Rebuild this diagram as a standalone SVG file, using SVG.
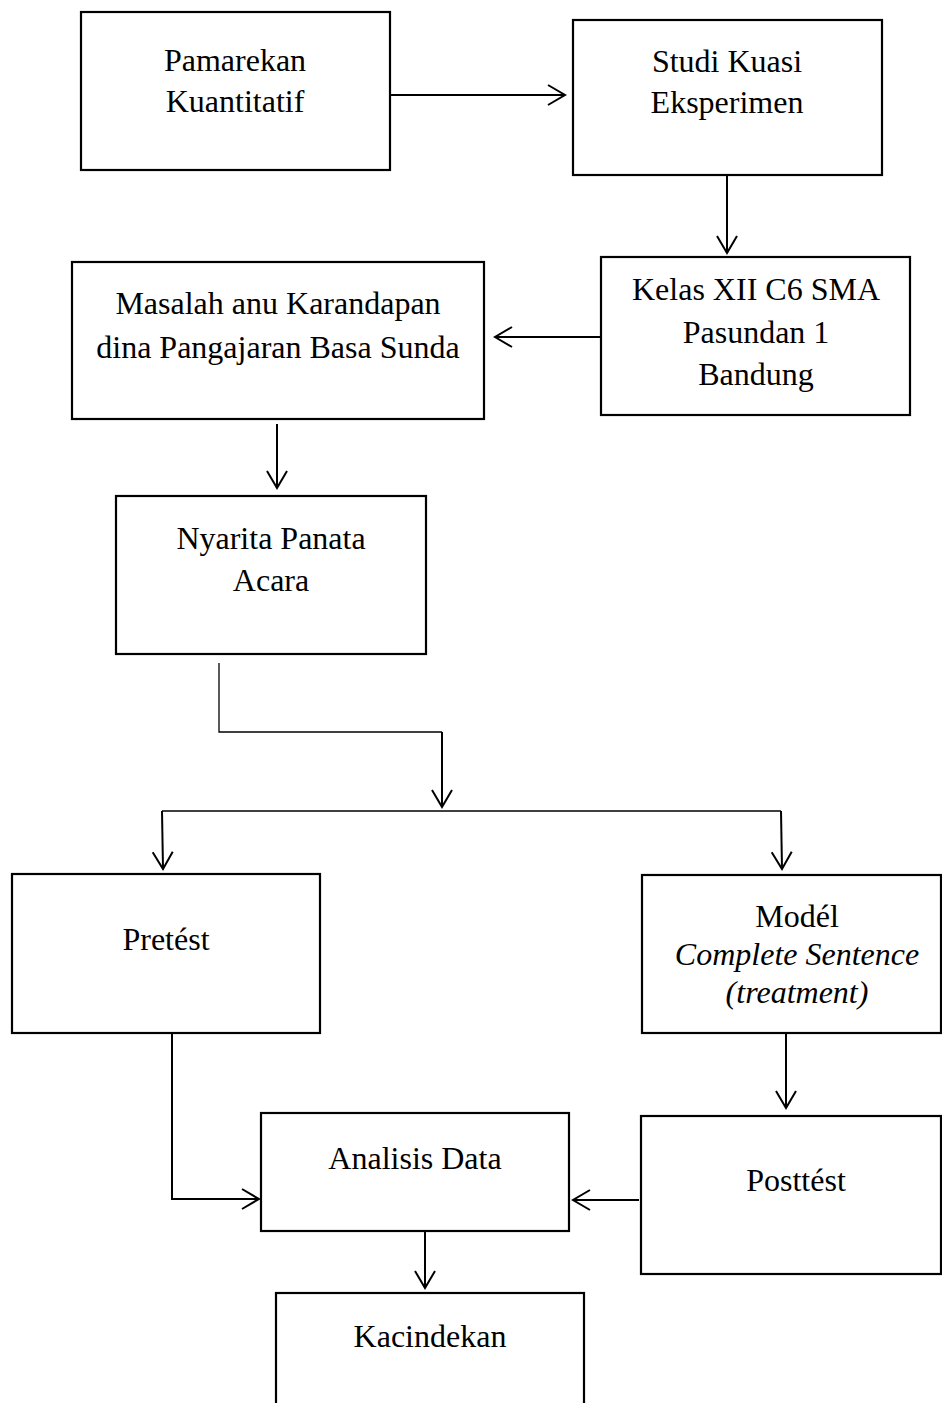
<svg xmlns="http://www.w3.org/2000/svg" width="942" height="1403" viewBox="0 0 942 1403">
<defs>
<style>
.box{fill:#fff;stroke:#000;stroke-width:2.2}
.t{font-family:"Liberation Serif","Times New Roman",serif;font-size:32px;fill:#000;text-anchor:middle}
.i{font-style:italic}
.c{fill:none;stroke:#000;stroke-width:2}
.thin{fill:none;stroke:#000;stroke-width:1.3}
</style>
<marker id="ah" markerUnits="userSpaceOnUse" markerWidth="24" markerHeight="24" viewBox="-20 -12 24 24" refX="0" refY="0" orient="auto">
<path d="M-17,-10 L0,0 L-17,10" fill="none" stroke="#000" stroke-width="2"/>
</marker>
</defs>
<rect width="942" height="1403" fill="#fff"/>
<g id="connectors">
<path class="c" d="M390,95 H565" marker-end="url(#ah)"/>
<path class="c" d="M727,175 V253" marker-end="url(#ah)"/>
<path class="c" d="M601,337 H495" marker-end="url(#ah)"/>
<path class="c" d="M277,424 V488" marker-end="url(#ah)"/>
<path class="thin" d="M219,663 V732 H442"/>
<path class="c" d="M442,732 V807" marker-end="url(#ah)"/>
<path class="thin" d="M162,811 H781"/>
<path class="c" d="M162,811 L163,869" marker-end="url(#ah)"/>
<path class="c" d="M781,811 L782,869" marker-end="url(#ah)"/>
<path class="c" d="M786,1033 V1108" marker-end="url(#ah)"/>
<path class="c" d="M172,1033 V1199 H259" marker-end="url(#ah)"/>
<path class="c" d="M639,1200 H573" marker-end="url(#ah)"/>
<path class="c" d="M425,1231 V1288" marker-end="url(#ah)"/>
</g>
<g id="n1"><rect class="box" x="81" y="12" width="309" height="158"/>
<text class="t" x="235" y="71">Pamarekan</text><text class="t" x="235" y="112">Kuantitatif</text></g>
<g id="n2"><rect class="box" x="573" y="20" width="309" height="155"/>
<text class="t" x="727" y="72">Studi Kuasi</text><text class="t" x="727" y="113">Eksperimen</text></g>
<g id="n3"><rect class="box" x="601" y="257" width="309" height="158"/>
<text class="t" x="756" y="300">Kelas XII C6 SMA</text><text class="t" x="756" y="343">Pasundan 1</text><text class="t" x="756" y="385">Bandung</text></g>
<g id="n4"><rect class="box" x="72" y="262" width="412" height="157"/>
<text class="t" x="278" y="314">Masalah anu Karandapan</text><text class="t" x="278" y="358">dina Pangajaran Basa Sunda</text></g>
<g id="n5"><rect class="box" x="116" y="496" width="310" height="158"/>
<text class="t" x="271" y="549">Nyarita Panata</text><text class="t" x="271" y="591">Acara</text></g>
<g id="n6"><rect class="box" x="12" y="874" width="308" height="159"/>
<text class="t" x="166" y="950">Pretést</text></g>
<g id="n7"><rect class="box" x="642" y="875" width="299" height="158"/>
<text class="t" x="797" y="927">Modél</text><text class="t i" x="797" y="965">Complete Sentence</text><text class="t i" x="797" y="1003">(treatment)</text></g>
<g id="n8"><rect class="box" x="261" y="1113" width="308" height="118"/>
<text class="t" x="415" y="1169">Analisis Data</text></g>
<g id="n9"><rect class="box" x="641" y="1116" width="300" height="158"/>
<text class="t" x="796" y="1191">Posttést</text></g>
<g id="n10"><rect class="box" x="276" y="1293" width="308" height="130"/>
<text class="t" x="430" y="1347">Kacindekan</text></g>
</svg>
